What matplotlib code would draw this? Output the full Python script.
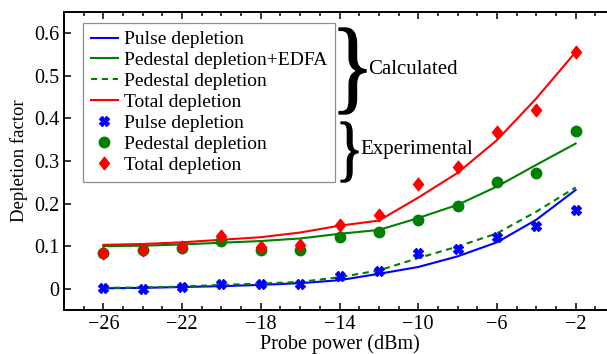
import matplotlib
matplotlib.use("Agg")
import matplotlib.pyplot as plt
from matplotlib.ticker import MultipleLocator
from matplotlib.textpath import TextPath
from matplotlib.patches import PathPatch
from matplotlib.font_manager import FontProperties
from matplotlib.transforms import Affine2D, IdentityTransform
from matplotlib.path import Path

plt.rcParams['font.family'] = ['Liberation Serif', 'DejaVu Serif']

# probe power (dBm)
power = [-26, -24, -22, -20, -18, -16, -14, -12, -10, -8, -6, -4, -2]

# calculated curves
calc_pulse = [0.001, 0.002, 0.004, 0.006, 0.009, 0.013, 0.020, 0.035, 0.051, 0.076, 0.109, 0.162, 0.232]
calc_ped_edfa = [0.100, 0.101, 0.104, 0.108, 0.112, 0.118, 0.129, 0.138, 0.166, 0.197, 0.240, 0.291, 0.341]
calc_ped = [0.002, 0.003, 0.005, 0.009, 0.012, 0.016, 0.027, 0.043, 0.072, 0.099, 0.130, 0.181, 0.238]
calc_total = [0.103, 0.105, 0.109, 0.115, 0.121, 0.132, 0.148, 0.160, 0.214, 0.272, 0.349, 0.447, 0.556]

# experimental points
exp_pulse = [0.002, 0.000, 0.004, 0.012, 0.011, 0.012, 0.030, 0.041, 0.085, 0.094, 0.121, 0.148, 0.185]
exp_ped = [0.084, 0.090, 0.095, 0.111, 0.091, 0.091, 0.121, 0.134, 0.162, 0.195, 0.250, 0.271, 0.371]
exp_total = [0.085, 0.091, 0.099, 0.123, 0.099, 0.103, 0.150, 0.172, 0.245, 0.287, 0.369, 0.419, 0.556]

W, H = 607, 354
fig = plt.figure(figsize=(W / 100, H / 100), dpi=100)
ax = fig.add_axes([64 / W, 44 / H, 551 / W, 298 / H])

# slightly taller than wide diamond, like the original
diamond = Path([(0, 1), (0.8, 0), (0, -1), (-0.8, 0), (0, 1)],
               [Path.MOVETO, Path.LINETO, Path.LINETO, Path.LINETO, Path.CLOSEPOLY])

ax.plot(power, calc_pulse, color='blue', lw=1.5, label='Pulse depletion')
ax.plot(power, calc_ped_edfa, color='green', lw=1.5, label='Pedestal depletion+EDFA')
ax.plot(power, calc_ped, color='green', lw=1.5, ls=(0, (3, 2.2)), label='Pedestal depletion')
ax.plot(power, calc_total, color='red', lw=1.5, label='Total depletion')
ax.plot(power, exp_pulse, ls='none', marker='X', ms=7, color='blue', mec='blue', label='Pulse depletion')
ax.plot(power, exp_ped, ls='none', marker='o', ms=7.5, color='green', mec='green', label='Pedestal depletion')
ax.plot(power, exp_total, ls='none', marker=diamond, ms=9, color='red', mec='red', label='Total depletion')

ax.set_xlim(-28, 0)
ax.set_ylim(-0.05, 0.65)
ax.xaxis.set_minor_locator(MultipleLocator(1))
ax.set_xticks([-26, -22, -18, -14, -10, -6, -2])
ax.set_xticklabels(['\u221226', '\u221222', '\u221218', '\u221214', '\u221210', '\u22126', '\u22122'])
yt = [0, 0.1, 0.2, 0.3, 0.4, 0.5, 0.6]
ax.set_yticks(yt)
ax.set_yticklabels(['0', '0.1', '0.2', '0.3', '0.4', '0.5', '0.6'])
ax.tick_params(which='both', direction='in', top=True, right=False, labelsize=14.5)
ax.tick_params(which='major', length=5, width=1.1)
ax.tick_params(which='minor', length=3, width=1.1)
ax.spines['right'].set_visible(False)
for s in ['left', 'top', 'bottom']:
    ax.spines[s].set_linewidth(1.4)

ax.set_xlabel('Probe power (dBm)', fontsize=14.5, labelpad=0)
ax.set_ylabel('Depletion factor', fontsize=13.5, labelpad=4)

leg = ax.legend(loc='upper left', bbox_to_anchor=((83 - 64) / 551, 1 - (23 - 12) / 298),
                fontsize=14, numpoints=1, handlelength=1.4, handletextpad=0.3,
                labelspacing=0.17, borderpad=0.4, borderaxespad=0,
                fancybox=False, frameon=True)
leg.get_frame().set_edgecolor('0.45')
leg.get_frame().set_linewidth(0.9)


def brace(x0, x1, y0, y1):
    # draw a '}' stretched into the box given in pixels from the top-left corner
    tp = TextPath((0, 0), '}', size=100, prop=FontProperties(family='Liberation Serif'))
    ext = tp.get_extents()
    tr = (Affine2D().translate(-ext.x0, -ext.y0)
          .scale((x1 - x0) / ext.width, (y1 - y0) / ext.height)
          .translate(x0, H - y1))
    patch = PathPatch(tr.transform_path(tp), fc='black', ec='black', lw=1.0,
                      transform=IdentityTransform())
    fig.add_artist(patch)


brace(339, 366, 28, 114)
fig.text(368 / W, 1 - 70 / H, 'Calculated', fontsize=15, va='center', ha='left')
brace(341, 358, 122, 182)
fig.text(360 / W, 1 - 149 / H, 'Experimental', fontsize=15, va='center', ha='left')

fig.savefig('out.png', dpi=100)
